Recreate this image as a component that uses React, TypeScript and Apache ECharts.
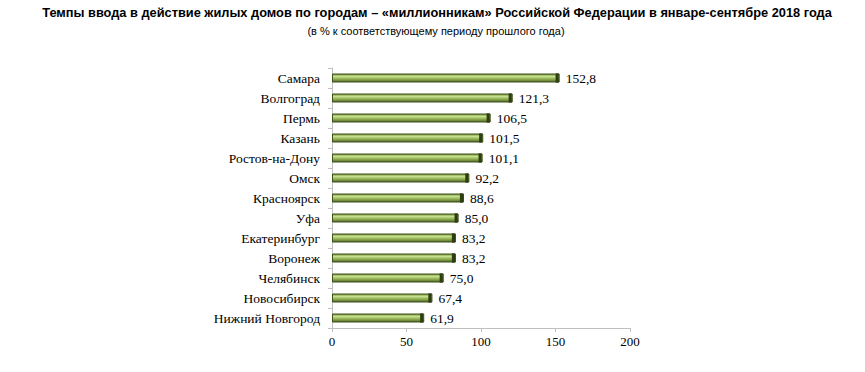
import React, { useEffect, useRef } from "react";
import * as echarts from "echarts";

const titleText =
  "Темпы ввода в действие жилых домов по городам – «миллионникам» Российской Федерации в январе-сентябре 2018 года";
const subtitleText = "(в % к соответствующему периоду прошлого года)";

const cities = [
  "Самара",
  "Волгоград",
  "Пермь",
  "Казань",
  "Ростов-на-Дону",
  "Омск",
  "Красноярск",
  "Уфа",
  "Екатеринбург",
  "Воронеж",
  "Челябинск",
  "Новосибирск",
  "Нижний Новгород",
];
const values = [152.8, 121.3, 106.5, 101.5, 101.1, 92.2, 88.6, 85.0, 83.2, 83.2, 75.0, 67.4, 61.9];
const xTicks = [0, 50, 100, 150, 200];

export default function App() {
  const ref = useRef<HTMLDivElement>(null);
  useEffect(() => {
    if (!ref.current) return;
    const chart = echarts.init(ref.current, undefined, { renderer: "svg" });
    const cats = [...cities].reverse();
    const vals = [...values].reverse();
    const fmt = (v: number) => v.toFixed(1).replace(".", ",");
    chart.setOption({
      animation: false,
      backgroundColor: "#ffffff",
      title: [
        {
          text: titleText,
          left: 432,
          textAlign: "center",
          top: 1,
          textStyle: {
            fontFamily: "Liberation Sans, Arial, sans-serif",
            fontWeight: "bold",
            fontSize: 12.8,
            color: "#000",
          },
        },
        {
          text: subtitleText,
          left: 431,
          textAlign: "center",
          top: 20,
          textStyle: {
            fontFamily: "Liberation Sans Narrow, Liberation Sans, Arial, sans-serif",
            fontWeight: "normal",
            fontSize: 11,
            color: "#000",
          },
        },
      ],
      grid: { left: 332, right: 235, top: 68, bottom: 44, containLabel: false },
      xAxis: {
        type: "value",
        min: 0,
        max: 200,
        interval: 50,
        splitLine: { show: false },
        axisLine: { show: true, lineStyle: { color: "#bfbfbf" } },
        axisTick: { show: true, length: 4, lineStyle: { color: "#bfbfbf" } },
        axisLabel: {
          fontFamily: "Liberation Serif, Times New Roman, serif",
          fontSize: 13,
          color: "#000",
          margin: 7,
          formatter: (v: number) => (xTicks.includes(v) ? String(v) : ""),
        },
      },
      yAxis: {
        type: "category",
        data: cats,
        axisLine: { show: true, lineStyle: { color: "#bfbfbf" } },
        axisTick: { show: true, length: 4, lineStyle: { color: "#bfbfbf" } },
        axisLabel: {
          fontFamily: "Liberation Serif, Times New Roman, serif",
          fontSize: 13.5,
          color: "#000",
          margin: 12,
        },
      },
      series: [
        {
          type: "bar",
          data: vals,
          barWidth: 9,
          itemStyle: {
            color: new echarts.graphic.LinearGradient(0, 0, 0, 1, [
              { offset: 0, color: "#6f8f30" },
              { offset: 0.3, color: "#c8e094" },
              { offset: 0.55, color: "#9dbd5c" },
              { offset: 1, color: "#51692a" },
            ]),
            borderColor: "#3e5119",
            borderWidth: 1,
          },
          label: {
            show: true,
            position: "right",
            distance: 6,
            fontFamily: "Liberation Serif, Times New Roman, serif",
            fontSize: 13.5,
            color: "#000",
            formatter: (p: any) => fmt(p.value),
          },
        },
        {
          type: "pictorialBar",
          data: vals,
          symbol: "rect",
          symbolSize: [3, 9],
          symbolPosition: "end",
          symbolOffset: [-1, 0],
          barGap: "-100%",
          z: 3,
          itemStyle: { color: "#2f3d12" },
          silent: true,
        },
      ],
    });
    return () => chart.dispose();
  }, []);
  return (
    <div
      ref={ref}
      style={{ position: "fixed", left: 0, top: 0, width: 865, height: 372 }}
    />
  );
}
